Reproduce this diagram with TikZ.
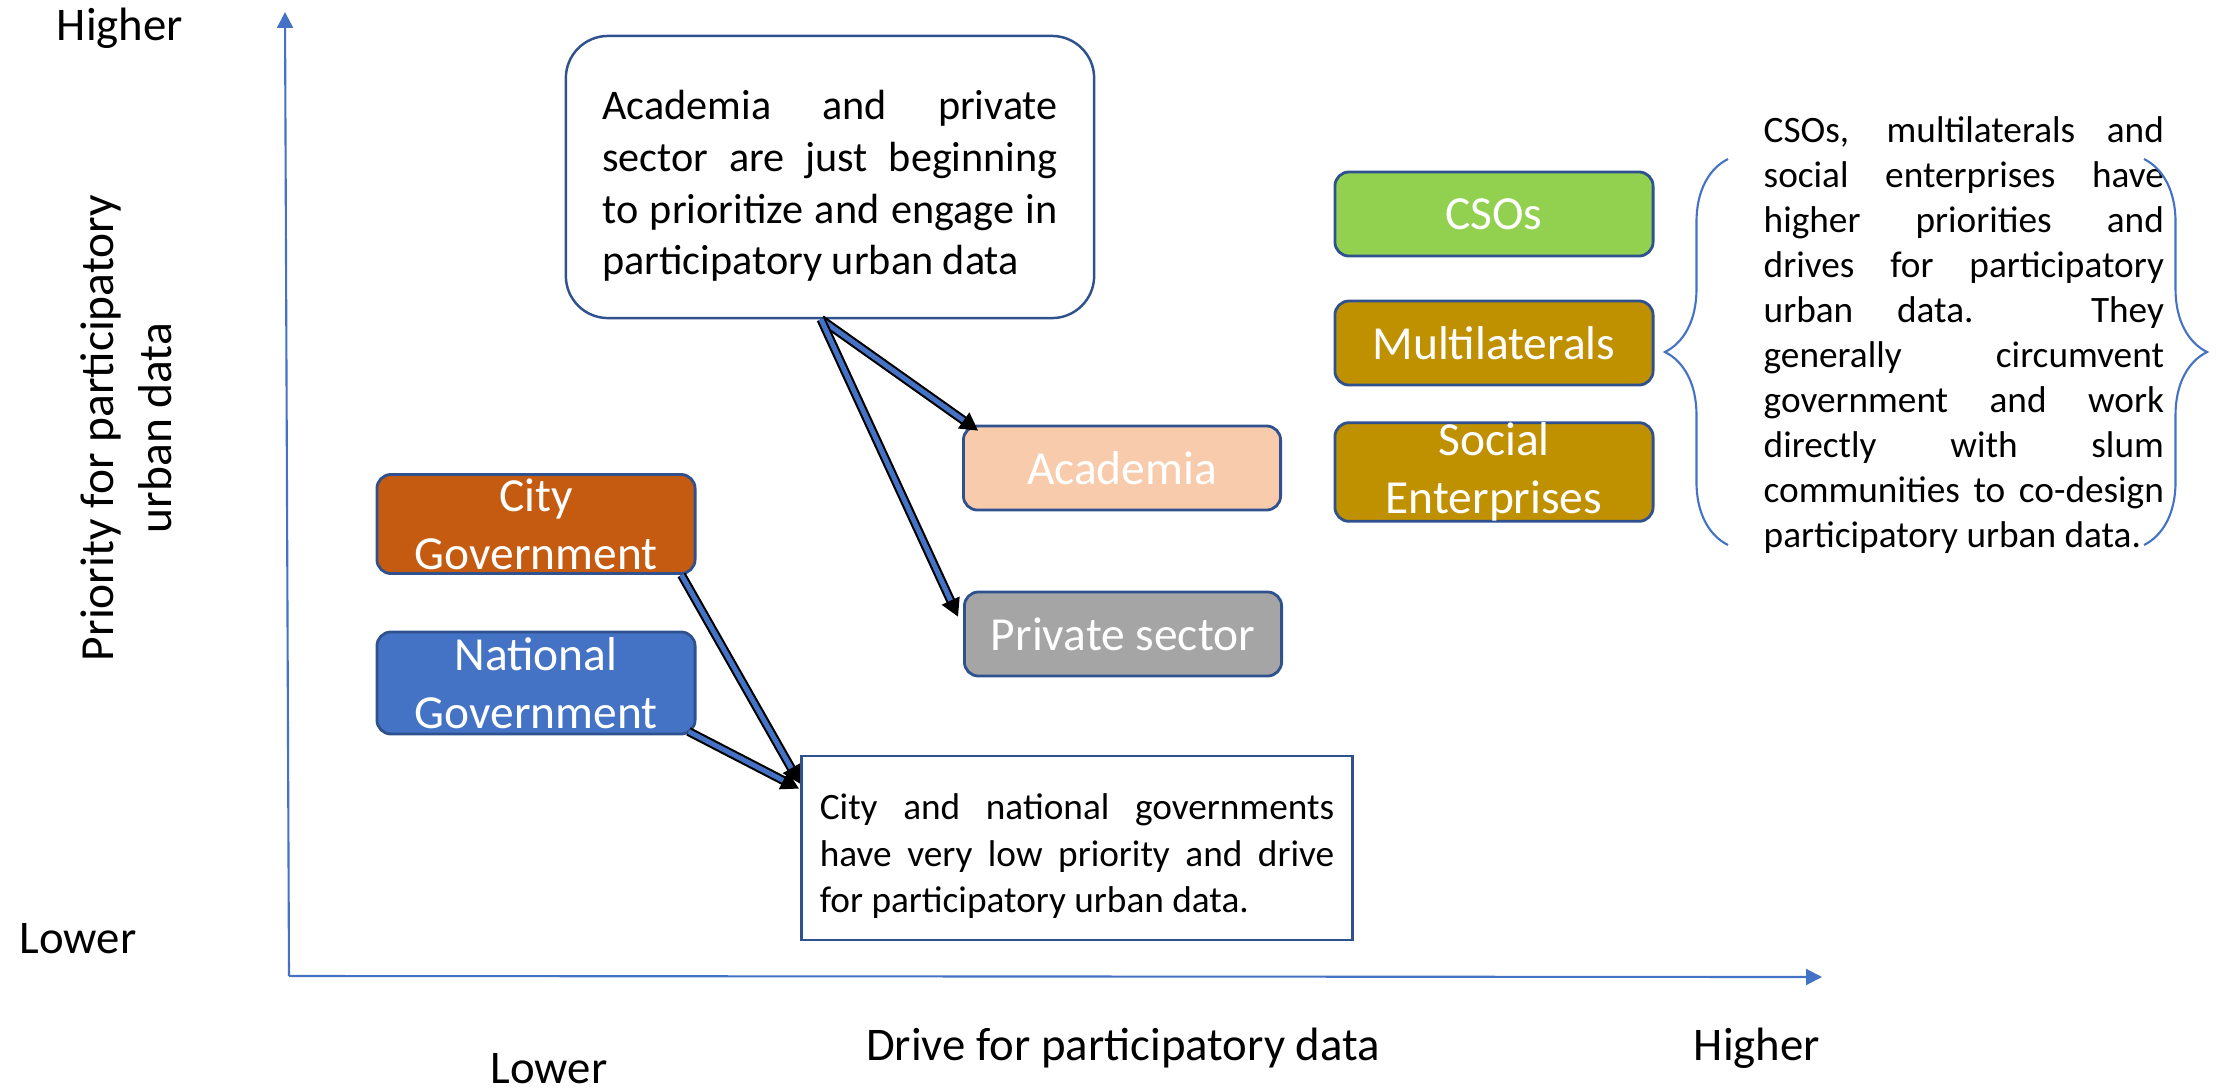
\documentclass[tikz,border=0pt]{standalone}
\usepackage{fontspec}
\setmainfont{Carlito}
\usepackage{tikz}
\usetikzlibrary{arrows.meta}
\usetikzlibrary{decorations.pathreplacing}
\definecolor{axisblue}{HTML}{4472C4}
\definecolor{edgeblue}{HTML}{2F528F}
\definecolor{csogreen}{HTML}{92D050}
\definecolor{mlgold}{HTML}{BF9000}
\definecolor{acpeach}{HTML}{F8CBAD}
\definecolor{pvgray}{HTML}{A5A5A5}
\definecolor{cityrust}{HTML}{C55A11}
\definecolor{natblue}{HTML}{4472C4}
\setlength{\parindent}{0pt}
\hbadness=10000
\tolerance=10000
\hyphenpenalty=10000
\exhyphenpenalty=10000

\begin{document}
\begin{tikzpicture}[x=0.01cm,y=-0.01cm,
  actor/.style={draw=edgeblue,line width=0.8pt,rounded corners=4pt,text=white,align=center,
    minimum width=3.18cm,minimum height=0.84cm,inner sep=0pt,font=\fontsize{13.5}{16.5}\selectfont},
  axislab/.style={anchor=base,font=\fontsize{13.3}{16}\selectfont},
  axisline/.style={axisblue,line width=0.6pt,-{Triangle[length=4.5pt,width=4.5pt]}},
  dbl/.style={draw=black,line width=0.6pt,double=natblue,double distance=1.4pt,-{Triangle[length=5pt,width=5.5pt]}},
  bracedeco/.style={axisblue,line width=0.6pt,decorate,decoration={brace,amplitude=0.63cm}}]
\useasboundingbox (0,0) rectangle (2217,1090);

\coordinate (o) at (289,976);
\coordinate (ytip) at (285,12);
\coordinate (xtip) at (1822,977);
\draw[axisline] (o) -- (ytip);
\draw[axisline] (o) -- (xtip);

\node[axislab] (yhigh) at (120,40) {Higher};
\node[axislab] (ylow) at (78,953) {Lower};
\node[axislab] (xlow) at (549,1083) {Lower};
\node[axislab] (xtitle) at (1123,1060) {Drive for participatory data};
\node[axislab] (xhigh) at (1757,1060) {Higher};
\node[rotate=90,align=center,font=\fontsize{13.5}{16.5}\selectfont] (ytitle) at (126,428) {Priority for participatory\\urban data};

\node[actor,fill=csogreen] (cso) at (1494,214) {CSOs};
\node[actor,fill=mlgold] (multi) at (1494,343) {Multilaterals};
\node[actor,fill=mlgold,minimum height=0.98cm] (social) at (1494,472) {Social\\Enterprises};
\node[actor,fill=acpeach,minimum width=3.17cm] (acad) at (1122,468) {Academia};
\node[actor,fill=pvgray,minimum width=3.17cm] (priv) at (1123,634) {Private sector};
\node[actor,fill=cityrust,minimum height=0.99cm] (city) at (536,524) {City\\Government};
\node[actor,fill=natblue,minimum height=1.02cm] (natl) at (536,683) {National\\Government};

\node[draw=edgeblue,line width=0.7pt,rounded corners=12pt,minimum width=5.28cm,minimum height=2.82cm,
  text width=4.55cm,align=justify,inner sep=0pt,font=\fontsize{12}{14.7}\selectfont] (acadnote) at (830,177)
  {\rule{0pt}{13.5pt}Academia and private\linebreak sector are just beginning\linebreak to prioritize and engage in\linebreak participatory urban data};
\node[draw=edgeblue,line width=0.8pt,minimum width=5.51cm,minimum height=1.84cm,
  text width=5.14cm,align=justify,inner sep=0pt,font=\fontsize{10.6}{13.2}\selectfont] (govnote) at (1077,848)
  {\rule{0pt}{12pt}City and national governments\linebreak have very low priority and drive\linebreak for participatory urban data.};
\node[text width=4cm,align=justify,inner sep=0pt,anchor=north west,font=\fontsize{10.6}{12.8}\selectfont] (csonote) at (1763,116)
  {CSOs, multilaterals and\linebreak social enterprises have\linebreak higher priorities and\linebreak drives for participatory\linebreak urban data. They\linebreak generally circumvent\linebreak government and work\linebreak directly with slum\linebreak communities to co-design\linebreak participatory urban data.};

\draw[bracedeco] (1728,545) -- (1728,159);
\draw[bracedeco] (2144,159) -- (2144,545);

\draw[dbl] ([xshift=-0.09cm]acadnote.south) -- ([shift={(16,6)}]acad.north west);
\draw[dbl] ([xshift=-0.09cm]acadnote.south) -- ([shift={(-5,26)}]priv.north west);
\draw[dbl] ([shift={(-15,0)}]city.south east) -- ([shift={(0,29)}]govnote.north west);
\draw[dbl] ([shift={(-8,-4)}]natl.south east) -- ([shift={(-1,34)}]govnote.north west);
\end{tikzpicture}
\end{document}
